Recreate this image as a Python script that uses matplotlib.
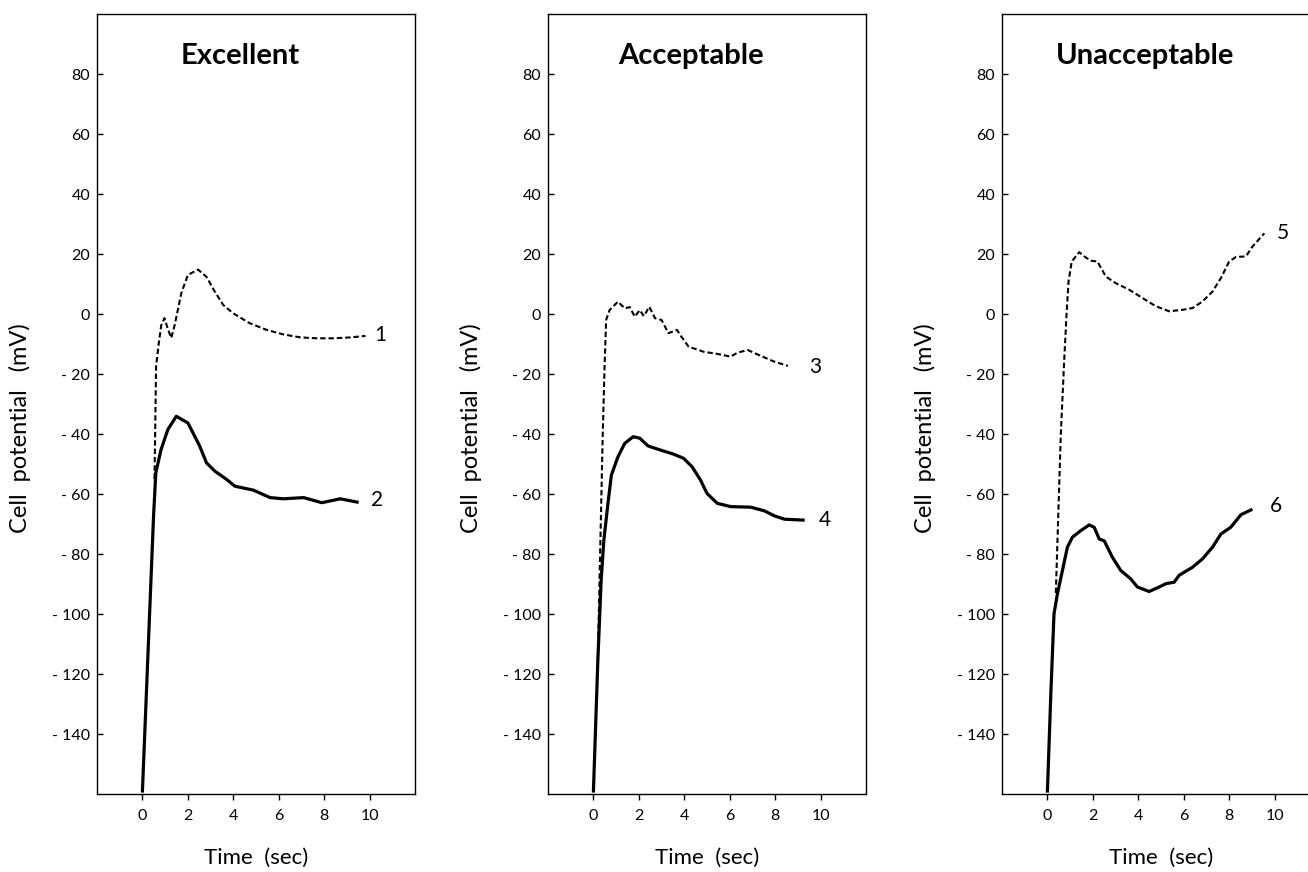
import matplotlib
matplotlib.use("Agg")
import matplotlib.pyplot as plt

plt.rcParams['font.family'] = ['Lato', 'DejaVu Sans']

# ---------------------------------------------------------
# DATA
# ---------------------------------------------------------
titles = ["Excellent", "Acceptable", "Unacceptable"]

y_ticks = [80, 60, 40, 20, 0, -20, -40, -60, -80, -100, -120, -140]
y_tick_labels = ["80", "60", "40", "20", "0", "- 20", "- 40", "- 60", "- 80",
                 "- 100", "- 120", "- 140"]
x_ticks = [0, 2, 4, 6, 8, 10]
x_tick_labels = ["0", "2", "4", "6", "8", "10"]

# curve 1 (dashed, Excellent)
t1 = [0.53, 0.56, 0.6, 0.72, 0.83, 0.97, 1.12, 1.27, 1.42, 1.71, 2.0, 2.45,
      2.82, 3.19, 3.56, 4.0, 4.73, 5.47, 6.2, 6.95, 7.68, 8.42, 9.16, 9.82]
v1 = [-55, -40, -17.5, -9.7, -3.7, -1.4, -5, -8, -3.7, 6.9, 13, 14.8,
      12.4, 7.4, 3, 0.2, -3.1, -5.3, -6.8, -7.8, -8.1, -8.1, -7.8, -7.3]
# curve 2 (solid, Excellent)
t2 = [0.0, 0.49, 0.59, 0.82, 1.12, 1.49, 2.0, 2.15, 2.52, 2.82, 3.19, 3.7,
      4.07, 4.88, 5.62, 6.2, 7.1, 7.9, 8.71, 9.45]
v2 = [-159, -67.3, -52.9, -45.2, -38.5, -34.1, -36.3, -38.5, -44, -49.6,
      -52.4, -55.1, -57.4, -58.7, -61.2, -61.6, -61.2, -62.9, -61.6, -62.7]

# curve 3 (dashed, Acceptable)
t3 = [0.19, 0.41, 0.49, 0.56, 0.71, 1.08, 1.38, 1.6, 1.82, 2.04, 2.22, 2.46,
      2.71, 3.0, 3.3, 3.68, 3.82, 4.19, 4.86, 5.45, 6.04, 6.34, 6.79, 7.38,
      7.97, 8.56]
v3 = [-116, -40, -17.6, -2, 1.3, 4.1, 1.9, 2.3, -0.9, 1.3, -0.7, 2.4,
      -1.4, -2, -6.4, -5.3, -7, -10.9, -12.6, -13.3, -14.2, -12.9, -12,
      -14, -15.9, -17.3]
# curve 4 (solid, Acceptable)
t4 = [0.0, 0.19, 0.34, 0.46, 0.64, 0.79, 1.08, 1.38, 1.75, 2.04, 2.41, 2.93,
      3.52, 3.97, 4.34, 4.71, 5.0, 5.45, 6.04, 6.93, 7.52, 7.97, 8.41, 9.23]
v4 = [-159, -116.4, -88.7, -75.3, -63.1, -53.7, -47.6, -43.1, -40.9, -41.4,
      -44, -45.3, -46.7, -48.1, -50.9, -55.3, -59.8, -63.1, -64.2, -64.4,
      -65.6, -67.3, -68.4, -68.7]

# curve 5 (dashed, Unacceptable)
t5 = [0.37, 0.59, 0.73, 0.84, 0.93, 1.07, 1.4, 1.69, 1.95, 2.2, 2.57, 3.0,
      3.6, 4.19, 4.77, 5.36, 5.95, 6.39, 6.83, 7.27, 7.64, 8.0, 8.3, 8.74,
      9.03, 9.55]
v5 = [-93, -40, -16.8, -0.2, 10.9, 17.5, 20.6, 18.8, 17.7, 17.5, 12.5, 10.3,
      8.1, 5.3, 2.6, 0.9, 1.4, 2, 4.2, 7.5, 12, 17.5, 19, 19.2, 22.5, 26.9]
# curve 6 (solid, Unacceptable)
t6 = [0.0, 0.15, 0.29, 0.44, 0.66, 0.88, 1.1, 1.47, 1.84, 2.06, 2.28, 2.5,
      2.86, 3.23, 3.67, 3.96, 4.48, 4.92, 5.21, 5.58, 5.8, 6.39, 6.83, 7.27,
      7.64, 8.07, 8.52, 8.96]
v6 = [-159, -126.5, -99.9, -93.3, -85.5, -77.7, -74.4, -72.2, -70.3, -71.1,
      -75, -75.6, -81.1, -85.5, -88.3, -91, -92.5, -91, -89.9, -89.4, -87.1,
      -84.4, -81.6, -77.7, -73.3, -71.1, -66.9, -65.3]

curve_labels = ["1", "2", "3", "4", "5", "6"]
label_pos = [(10.2, -7), (10.05, -62), (9.5, -17.5), (9.9, -68.5),
             (10.1, 27), (9.8, -64)]

panels = [((t1, v1), (t2, v2)), ((t3, v3), (t4, v4)), ((t5, v5), (t6, v6))]

# ---------------------------------------------------------
# PLOT
# ---------------------------------------------------------
fig = plt.figure(figsize=(13.08, 8.72), dpi=100)
lefts = [97 / 1308, 548 / 1308, 1002 / 1308]
width = 318 / 1308
bottom = 1 - 794 / 872
height = (794 - 14) / 872

for i, (left, title, (dash, solid)) in enumerate(zip(lefts, titles, panels)):
    ax = fig.add_axes([left, bottom, width, height])
    ax.plot(dash[0], dash[1], color="black", lw=1.5, dashes=(2.6, 1.4))
    ax.plot(solid[0], solid[1], color="black", lw=2.3)

    for k in (2 * i, 2 * i + 1):
        ax.text(label_pos[k][0], label_pos[k][1], curve_labels[k],
                fontsize=15, va="center", ha="left")

    ax.text(4.3, 86, title, fontsize=21, fontweight="bold",
            ha="center", va="center")

    ax.set_xlim(-2, 12)
    ax.set_ylim(-160, 100)
    ax.set_yticks(y_ticks)
    ax.set_yticklabels(y_tick_labels)
    ax.set_xticks(x_ticks)
    ax.set_xticklabels(x_tick_labels)
    ax.tick_params(axis='y', direction='in', length=4, width=1,
                   labelsize=11.5, pad=5)
    ax.tick_params(axis='x', direction='out', length=4, width=1,
                   labelsize=11.5, pad=7)
    for sp in ax.spines.values():
        sp.set_linewidth(1.0)
    if i == 2:
        ax.spines['right'].set_visible(False)

    # axis titles placed in figure coordinates
    fig.text(left + width / 2, 1 - 858 / 872, "Time  (sec)",
             fontsize=16, ha="center", va="center")
    fig.text(left - 77 / 1308, 1 - 428 / 872, "Cell  potential   (mV)",
             rotation=90, fontsize=17, ha="center", va="center")

fig.savefig("out.png", dpi=100)
